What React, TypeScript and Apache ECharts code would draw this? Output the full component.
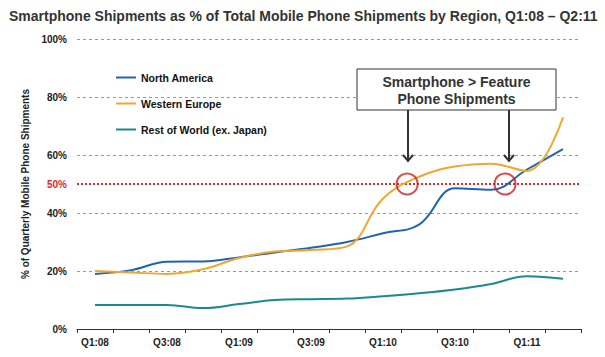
import React, { useEffect, useRef } from "react";
import * as echarts from "echarts";

const quarters = ["Q1:08", "Q2:08", "Q3:08", "Q4:08", "Q1:09", "Q2:09", "Q3:09", "Q4:09", "Q1:10", "Q2:10", "Q3:10", "Q4:10", "Q1:11", "Q2:11"];
const northAmerica = [19, 20.3, 23.2, 23.3, 24.7, 26.4, 28, 30, 33, 36, 48.5, 48, 55, 62];
const westernEurope = [20, 19.5, 19, 20.6, 24.5, 26.7, 27.2, 28.5, 45, 52.5, 56, 57, 54.5, 73];
const restOfWorld = [8.3, 8.3, 8.3, 7.2, 8.6, 10, 10.3, 10.5, 11.3, 12.3, 13.6, 15.5, 18.2, 17.3];
const seriesNames = ["North America", "Western Europe", "Rest of World (ex. Japan)"];
const thresholdValue = 50;
const crossings = [8.67, 11.39];
const yTicks = [0, 20, 40, 60, 80, 100];

const FONT = "'Liberation Sans', Arial, sans-serif";
const COLORS = ["#1f64b0", "#f0a72f", "#1a8a8c"];

export default function App() {
  const ref = useRef<HTMLDivElement>(null);
  useEffect(() => {
    const chart = echarts.init(ref.current as HTMLDivElement, null, { renderer: "svg" });
    const lineSeries = [northAmerica, westernEurope, restOfWorld].map((d, i) => ({
      name: seriesNames[i],
      type: "line",
      data: d,
      smooth: 0.4,
      showSymbol: false,
      lineStyle: { width: 2, color: COLORS[i] },
      itemStyle: { color: COLORS[i] },
      z: 3,
    }));
    const option: any = {
      animation: false,
      textStyle: { fontFamily: FONT },
      title: {
        text: "Smartphone Shipments as % of Total Mobile Phone Shipments by Region, Q1:08 – Q2:11",
        left: 4,
        top: 4,
        textStyle: { fontSize: 14, fontWeight: "bold", color: "#333", fontFamily: FONT },
      },
      grid: { left: 77, right: 24, top: 39, bottom: 28, containLabel: false },
      legend: {
        data: seriesNames,
        orient: "vertical",
        left: 111,
        top: 67,
        icon: "rect",
        itemWidth: 20,
        itemHeight: 2,
        itemGap: 15,
        textStyle: { fontSize: 10.5, fontWeight: "bold", color: "#111", fontFamily: FONT },
      },
      xAxis: [
        {
          type: "category",
          data: quarters,
          boundaryGap: true,
          axisLine: { lineStyle: { color: "#333", width: 1 } },
          axisTick: { show: true, interval: 0, length: 4, lineStyle: { color: "#333" } },
          axisLabel: { interval: 1, fontSize: 10, fontWeight: "bold", color: "#222", margin: 8, fontFamily: FONT },
          splitLine: { show: false },
        },
        { type: "value", min: -0.5, max: quarters.length - 0.5, show: false },
      ],
      yAxis: {
        type: "value",
        min: yTicks[0],
        max: yTicks[yTicks.length - 1],
        interval: 20,
        name: "% of Quarterly Mobile Phone Shipments",
        nameLocation: "middle",
        nameGap: 47,
        nameTextStyle: { fontSize: 10, fontWeight: "bold", color: "#222", fontFamily: FONT },
        axisLine: { show: false },
        axisTick: { show: false },
        axisLabel: { formatter: "{value}%", fontSize: 10, fontWeight: "bold", color: "#222", margin: 10, fontFamily: FONT },
        splitLine: { show: true, lineStyle: { color: "#999", type: [3, 3], width: 1 } },
      },
      series: [
        ...lineSeries,
        {
          type: "scatter",
          xAxisIndex: 1,
          yAxisIndex: 0,
          data: crossings.map((c) => [c, thresholdValue]),
          symbol: "circle",
          symbolSize: 21,
          itemStyle: { color: "rgba(0,0,0,0)", borderColor: "#cc1f24", borderWidth: 2 },
          silent: true,
          z: 5,
          markLine: {
            silent: true,
            symbol: ["none", "none"],
            data: [{ yAxis: thresholdValue }],
            lineStyle: { color: "#e3262b", type: [2, 2], width: 2 },
            label: {
              show: true,
              position: "start",
              formatter: thresholdValue + "%",
              color: "#e3262b",
              fontSize: 10,
              fontWeight: "bold",
              distance: 10,
              fontFamily: FONT,
            },
            z: 2,
          },
        },
      ],
      graphic: [
        {
          type: "rect",
          shape: { x: 357, y: 69, width: 199, height: 41 },
          style: { fill: "#fff", stroke: "#333", lineWidth: 1 },
          z: 10,
        },
        {
          type: "text",
          x: 456.5,
          y: 90,
          style: {
            text: "Smartphone > Feature\nPhone Shipments",
            textAlign: "center",
            textVerticalAlign: "middle",
            font: "bold 14px " + FONT,
            lineHeight: 17,
            fill: "#333",
          },
          z: 11,
        },
        { type: "line", shape: { x1: 408, y1: 110, x2: 408, y2: 161 }, style: { stroke: "#333", lineWidth: 2 }, z: 10 },
        { type: "polyline", shape: { points: [[403, 155], [408, 161], [413, 155]] }, style: { stroke: "#333", lineWidth: 2, fill: "none" }, z: 10 },
        { type: "line", shape: { x1: 509, y1: 110, x2: 509, y2: 161 }, style: { stroke: "#333", lineWidth: 2 }, z: 10 },
        { type: "polyline", shape: { points: [[504, 155], [509, 161], [514, 155]] }, style: { stroke: "#333", lineWidth: 2, fill: "none" }, z: 10 },
      ],
    };
    chart.setOption(option);
    return () => chart.dispose();
  }, []);
  return <div ref={ref} style={{ position: "absolute", left: 0, top: 0, width: 605, height: 357, background: "#fff" }} />;
}
